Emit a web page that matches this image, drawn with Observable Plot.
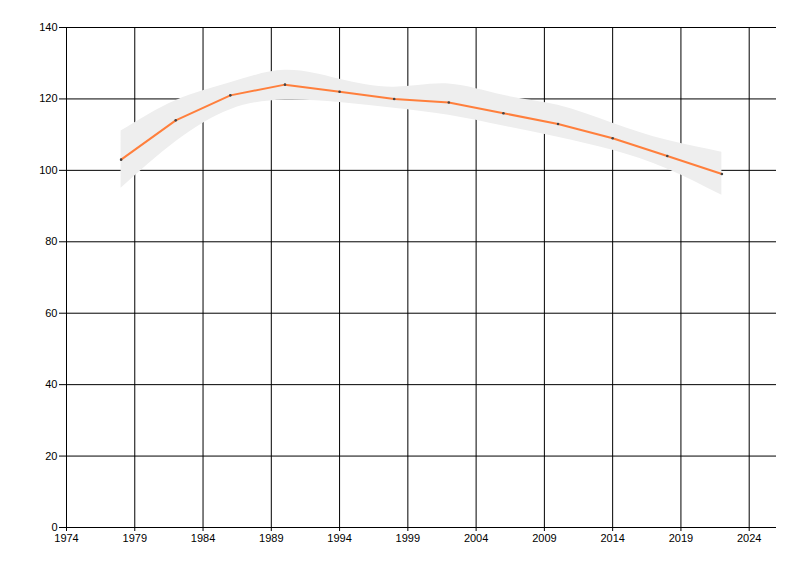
<!DOCTYPE html>
<html>
<head>
<meta charset="utf-8">
<script src="https://cdn.jsdelivr.net/npm/d3@7"></script>
<script src="https://cdn.jsdelivr.net/npm/@observablehq/plot@0.6"></script>
<style>
  html, body { margin: 0; padding: 0; background: white; }
</style>
</head>
<body>
<div id="chart"></div>
<script>
const years = [1978, 1982, 1986, 1990, 1994, 1998, 2002, 2006, 2010, 2014, 2018, 2022];
const values = [103, 114, 121, 124, 122, 120, 119, 116, 113, 109, 104, 99];
const upper = [111, 119.5, 124.5, 128, 125.5, 123.3, 124.2, 121, 118.2, 113.2, 108.4, 105.1];
const lower = [95, 108, 117, 119.7, 119, 117.4, 115.4, 112.4, 109.3, 105.6, 100.4, 93];
const xTicks = [1974, 1979, 1984, 1989, 1994, 1999, 2004, 2009, 2014, 2019, 2024];
const yTicks = [0, 20, 40, 60, 80, 100, 120, 140];

const data = years.map((year, i) => ({year, value: values[i], hi: upper[i], lo: lower[i]}));

const chart = Plot.plot({
  width: 800,
  height: 576,
  marginLeft: 66,
  marginRight: 24,
  marginTop: 27,
  marginBottom: 49,
  style: {fontSize: "11px", fontFamily: "'Liberation Sans', Arial, sans-serif", color: "black", background: "white"},
  x: {domain: [1974, 2026]},
  y: {domain: [0, 140]},
  marks: [
    Plot.ruleX(xTicks, {y1: 0, y2: 140, stroke: "black", strokeWidth: 1}),
    Plot.ruleY(yTicks, {x1: 1974, x2: 2026, stroke: "black", strokeWidth: 1}),
    Plot.areaY(data, {x: "year", y1: "lo", y2: "hi", fill: "#eeeeee", curve: "natural"}),
    Plot.line(data, {x: "year", y: "value", stroke: "#ff7f3c", strokeWidth: 2}),
    Plot.dot(data, {x: "year", y: "value", r: 1.3, fill: "#444444"}),
    Plot.axisX({ticks: xTicks, tickFormat: "d", tickSize: 4, tickPadding: 3, label: null}),
    Plot.axisY({ticks: yTicks, tickSize: 7, tickPadding: 2, label: null})
  ]
});
document.getElementById("chart").appendChild(chart);
</script>
</body>
</html>
